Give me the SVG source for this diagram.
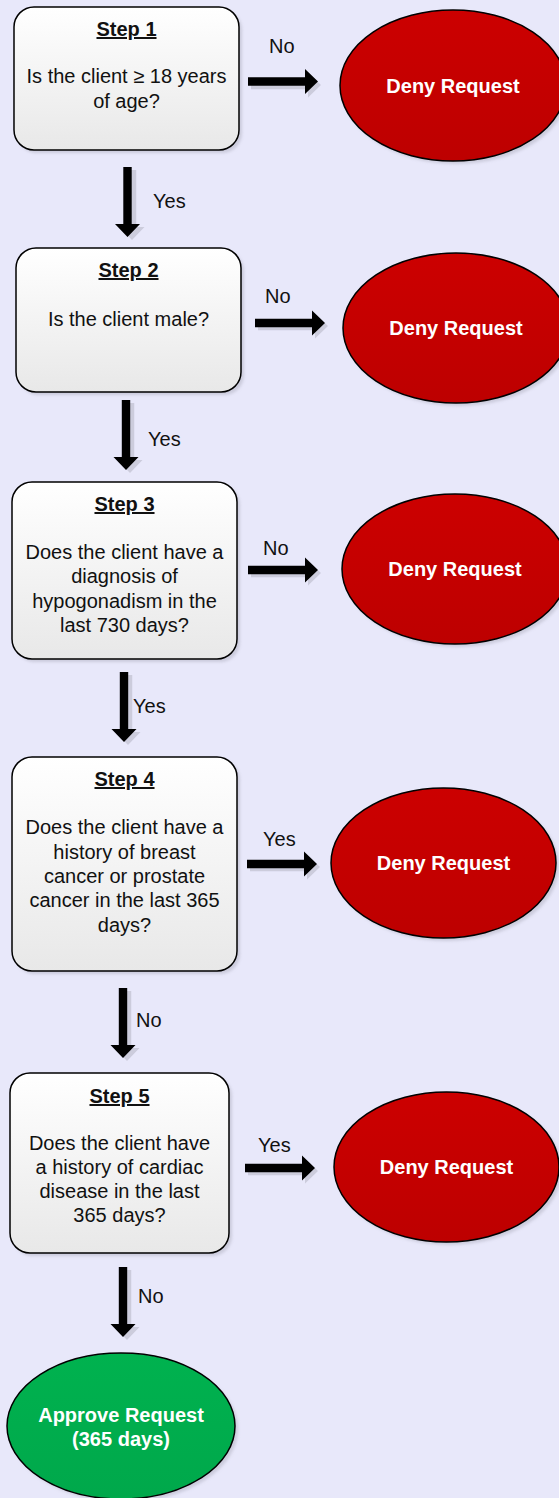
<svg xmlns="http://www.w3.org/2000/svg" xmlns:xlink="http://www.w3.org/1999/xlink" width="559" height="1498" viewBox="0 0 559 1498">
<defs>
<linearGradient id="boxg" x1="0" y1="0" x2="0" y2="1">
<stop offset="0" stop-color="#ffffff"/>
<stop offset="1" stop-color="#e8e8e8"/>
</linearGradient>
<linearGradient id="redg" x1="0" y1="0" x2="0" y2="1">
<stop offset="0" stop-color="#cc0000"/>
<stop offset="1" stop-color="#bd0000"/>
</linearGradient>
<linearGradient id="greeng" x1="0" y1="0" x2="0" y2="1">
<stop offset="0" stop-color="#00b24f"/>
<stop offset="1" stop-color="#00a84b"/>
</linearGradient>
<filter id="sh" x="-10%" y="-10%" width="130%" height="130%">
<feGaussianBlur stdDeviation="1.5"/>
</filter>
<path id="arr" d="M0,-4.2 H57 V-12.5 L70,0 L57,12.5 V4.2 H0 Z"/>
</defs>
<style>
.bg{fill:#e8e8fa}
.box{fill:url(#boxg);stroke:#000;stroke-width:1.5}
.shadow{fill:#b8b8c8;opacity:0.6}
.deny{fill:url(#redg);stroke:#000;stroke-width:1.5}
.ok{fill:url(#greeng);stroke:#000;stroke-width:1.5}
text{font-family:"Liberation Sans",Arial,sans-serif;font-size:20px}
.t{fill:#111;text-anchor:middle}
.h{fill:#111;text-anchor:middle;font-weight:bold;text-decoration:underline}
.w{fill:#fff;text-anchor:middle;font-weight:bold}
.lbl{fill:#111}
.a{fill:#000}
.as{fill:#c4c4d4;opacity:0.8}
</style>
<rect class="bg" x="0" y="0" width="559" height="1498"/>

<g id="step1">
<rect class="shadow" x="17" y="10" width="225" height="143" rx="20" filter="url(#sh)"/>
<rect class="box" x="14" y="7" width="225" height="143" rx="20"/>
<text class="h" x="126.5" y="36">Step 1</text>
<text class="t" x="126.5" y="83">Is the client ≥ 18 years</text>
<text class="t" x="126.5" y="108">of age?</text>
</g>
<g id="deny1">
<ellipse class="shadow" cx="456" cy="88.5" rx="113" ry="75.5" filter="url(#sh)"/>
<ellipse class="deny" cx="453" cy="85.5" rx="113" ry="75.5"/>
<text class="w" x="453" y="92.5">Deny Request</text>
</g>

<g id="step2">
<rect class="shadow" x="19" y="251" width="225" height="144" rx="20" filter="url(#sh)"/>
<rect class="box" x="16" y="248" width="225" height="144" rx="20"/>
<text class="h" x="128.5" y="277">Step 2</text>
<text class="t" x="128.5" y="326">Is the client male?</text>
</g>
<g id="deny2">
<ellipse class="shadow" cx="459" cy="331" rx="113" ry="75" filter="url(#sh)"/>
<ellipse class="deny" cx="456" cy="328" rx="113" ry="75"/>
<text class="w" x="456" y="335">Deny Request</text>
</g>

<g id="step3">
<rect class="shadow" x="15" y="485" width="225" height="177" rx="20" filter="url(#sh)"/>
<rect class="box" x="12" y="482" width="225" height="177" rx="20"/>
<text class="h" x="124.5" y="511">Step 3</text>
<text class="t" x="124.5" y="559">Does the client have a</text>
<text class="t" x="124.5" y="583">diagnosis of</text>
<text class="t" x="124.5" y="608">hypogonadism in the</text>
<text class="t" x="124.5" y="632">last 730 days?</text>
</g>
<g id="deny3">
<ellipse class="shadow" cx="458" cy="572" rx="113" ry="75" filter="url(#sh)"/>
<ellipse class="deny" cx="455" cy="569" rx="113" ry="75"/>
<text class="w" x="455" y="576">Deny Request</text>
</g>

<g id="step4">
<rect class="shadow" x="15" y="760" width="225" height="214" rx="20" filter="url(#sh)"/>
<rect class="box" x="12" y="757" width="225" height="214" rx="20"/>
<text class="h" x="124.5" y="786">Step 4</text>
<text class="t" x="124.5" y="834">Does the client have a</text>
<text class="t" x="124.5" y="859">history of breast</text>
<text class="t" x="124.5" y="883">cancer or prostate</text>
<text class="t" x="124.5" y="907">cancer in the last 365</text>
<text class="t" x="124.5" y="932">days?</text>
</g>
<g id="deny4">
<ellipse class="shadow" cx="446.5" cy="866" rx="112.5" ry="75" filter="url(#sh)"/>
<ellipse class="deny" cx="443.5" cy="863" rx="112.5" ry="75"/>
<text class="w" x="443.5" y="870">Deny Request</text>
</g>

<g id="step5">
<rect class="shadow" x="13" y="1076" width="219" height="180" rx="20" filter="url(#sh)"/>
<rect class="box" x="10" y="1073" width="219" height="180" rx="20"/>
<text class="h" x="119.5" y="1103">Step 5</text>
<text class="t" x="119.5" y="1150">Does the client have</text>
<text class="t" x="119.5" y="1174">a history of cardiac</text>
<text class="t" x="119.5" y="1198">disease in the last</text>
<text class="t" x="119.5" y="1222">365 days?</text>
</g>
<g id="deny5">
<ellipse class="shadow" cx="449.5" cy="1170" rx="112.5" ry="75" filter="url(#sh)"/>
<ellipse class="deny" cx="446.5" cy="1167" rx="112.5" ry="75"/>
<text class="w" x="446.5" y="1174">Deny Request</text>
</g>

<g id="approve">
<ellipse class="shadow" cx="124" cy="1429" rx="114" ry="73" filter="url(#sh)"/>
<ellipse class="ok" cx="121" cy="1426" rx="114" ry="73"/>
<text class="w" x="121" y="1422">Approve Request</text>
<text class="w" x="121" y="1446">(365 days)</text>
</g>

<g id="connectors">
<use href="#arr" class="as" transform="translate(251,85)"/>
<use href="#arr" class="a" transform="translate(248,81.5)"/>
<text class="lbl" x="269" y="53">No</text>
<use href="#arr" class="as" transform="translate(132,170) rotate(90)"/>
<use href="#arr" class="a" transform="translate(127.5,167) rotate(90)"/>
<text class="lbl" x="153" y="208">Yes</text>

<use href="#arr" class="as" transform="translate(258,326)"/>
<use href="#arr" class="a" transform="translate(255,323)"/>
<text class="lbl" x="265" y="303">No</text>
<use href="#arr" class="as" transform="translate(130,403) rotate(90)"/>
<use href="#arr" class="a" transform="translate(126,400) rotate(90)"/>
<text class="lbl" x="148" y="446">Yes</text>

<use href="#arr" class="as" transform="translate(251,573)"/>
<use href="#arr" class="a" transform="translate(248,570)"/>
<text class="lbl" x="263" y="555">No</text>
<use href="#arr" class="as" transform="translate(128,675) rotate(90)"/>
<use href="#arr" class="a" transform="translate(124,672) rotate(90)"/>
<text class="lbl" x="133" y="713">Yes</text>

<use href="#arr" class="as" transform="translate(250,867)"/>
<use href="#arr" class="a" transform="translate(247,864)"/>
<text class="lbl" x="263" y="846">Yes</text>
<use href="#arr" class="as" transform="translate(127,991) rotate(90)"/>
<use href="#arr" class="a" transform="translate(123,988) rotate(90)"/>
<text class="lbl" x="136" y="1027">No</text>

<use href="#arr" class="as" transform="translate(248,1171)"/>
<use href="#arr" class="a" transform="translate(245,1168)"/>
<text class="lbl" x="258" y="1152">Yes</text>
<use href="#arr" class="as" transform="translate(127,1270) rotate(90)"/>
<use href="#arr" class="a" transform="translate(123,1267) rotate(90)"/>
<text class="lbl" x="138" y="1303">No</text>
</g>
</svg>
